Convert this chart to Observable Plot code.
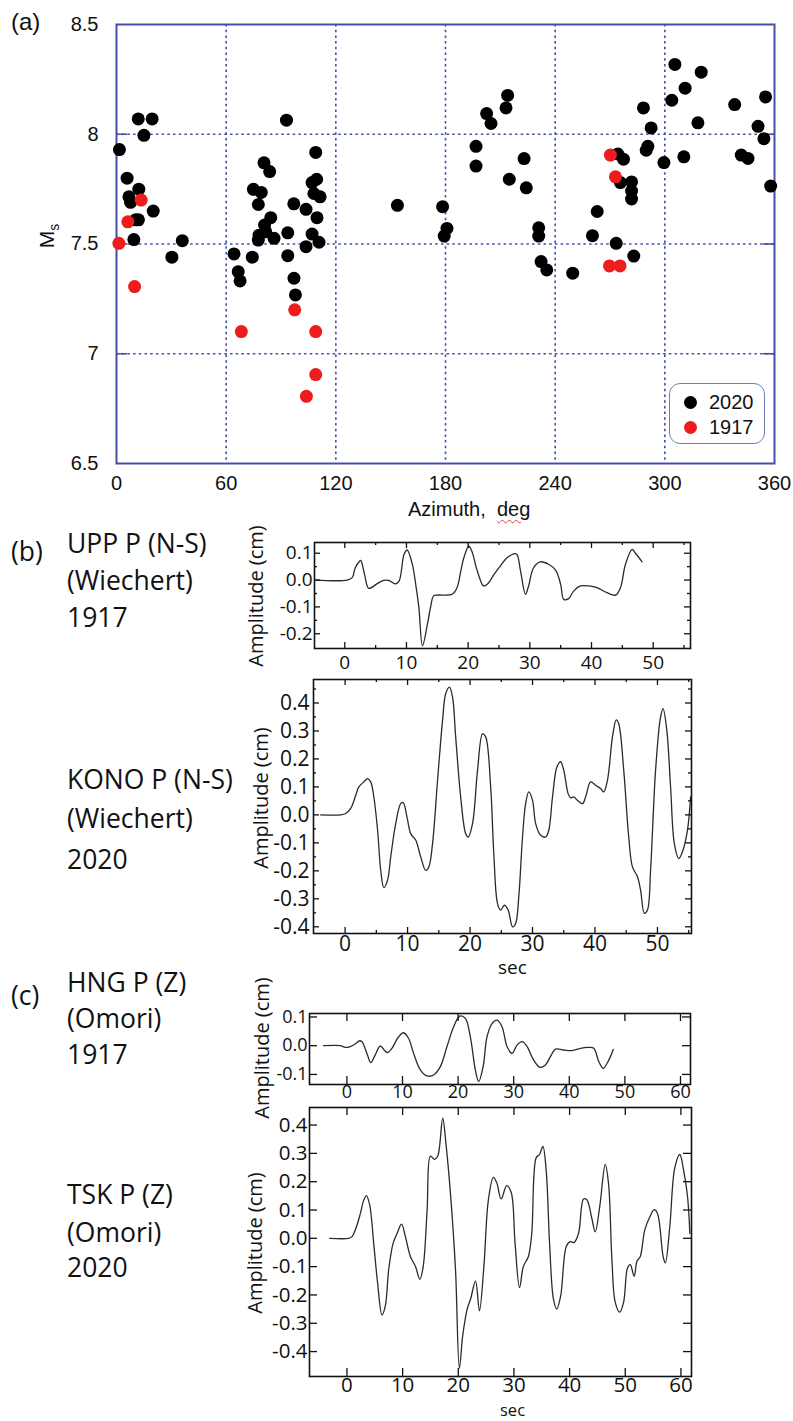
<!DOCTYPE html>
<html><head><meta charset="utf-8">
<script src="https://cdn.jsdelivr.net/npm/d3@7"></script>
<script src="https://cdn.jsdelivr.net/npm/@observablehq/plot@0.6"></script>
<style>
body{margin:0;background:#fff;}
#root{position:relative;width:793px;height:1421px;overflow:hidden;background:#fff;}
#root svg{position:absolute;max-width:none;}
.abs{position:absolute;white-space:nowrap;line-height:1;}
.ar{font-family:"Liberation Sans",Arial,sans-serif;color:#111;}
.os{font-family:"Open Sans",sans-serif;color:#111;}
.rot{transform:translate(-50%,-50%) rotate(-90deg);transform-origin:center;}
</style></head><body><div id="root"></div><script>
// ---------- (a) scatter data ----------
const azimuth2020 = [1.6,5.8,6.8,7.7,12.2,10.5,12.0,9.5,11.9,19.5,15.0,20.1,36.0,30.3,
  93,109,80.7,83.8,107,109.5,74.9,79.2,108,111.4,77.6,97,103.7,84.4,109.7,81,78,81.6,86.2,77.6,93.7,107,110.8,103.7,64.3,74.3,93.7,66.6,67.6,97.1,97.9,
  153.7,178.4,180.8,179.3,196.7,196.7,202.5,204.9,214,213.1,223,214.9,224.2,231,231,232.3,235.4,249.6,
  263,260.4,274.3,277.4,275.7,281.8,281.8,281.8,273.4,283,288.3,292.5,290.7,289.8,299.5,305.5,319.9,311.1,303.8,318.1,310.4,338.2,355.1,351,354.2,341.8,345.5,357.9];
const ms2020 = [7.93,7.80,7.715,7.69,7.75,7.61,7.61,7.52,8.07,8.07,7.995,7.65,7.515,7.44,
  8.064,7.917,7.87,7.83,7.78,7.795,7.749,7.735,7.73,7.715,7.68,7.683,7.658,7.62,7.62,7.586,7.54,7.556,7.526,7.518,7.551,7.545,7.508,7.488,7.455,7.44,7.447,7.374,7.332,7.344,7.268,
  7.676,7.67,7.571,7.536,7.945,7.855,8.094,8.049,8.177,8.12,7.889,7.795,7.756,7.574,7.536,7.42,7.382,7.367,
  7.648,7.538,7.91,7.886,7.78,7.783,7.741,7.705,7.503,7.445,8.12,8.029,7.945,7.927,7.871,8.318,8.283,8.21,8.155,8.052,7.897,8.135,8.17,8.036,7.98,7.905,7.89,7.764];
const azimuth1917 = [1.3,6.2,13.5,9.9,68.3,97.5,109,109,103.9,270.2,273,269.7,275.5];
const ms1917 = [7.503,7.601,7.70,7.306,7.101,7.2,7.101,6.905,6.806,7.905,7.806,7.40,7.40];
const azimuthTicks = [0,60,120,180,240,300,360];
const azimuthGrid = [60,120,180,240,300];
const msTicks = [6.5,7,7.5,8,8.5];
const msGrid = [7,7.5,8];
const seriesNames = ["2020","1917"];

// ---------- (b) waveforms ----------
const uppT = [-4.8,0.4,1.2,1.7,2.4,2.6,3.2,3.9,5.2,6.3,7.1,8.2,8.8,9.6,10.1,10.9,11.5,12.0,12.6,13.4,13.9,14.4,15.0,17.4,18.2,18.8,19.3,20.1,20.6,21.5,22.5,23.1,24.2,25.2,26.3,27.4,27.9,28.5,29.3,29.8,30.6,31.7,33.1,34.2,35.0,35.5,36.3,37.1,38.2,39.6,40.9,42.5,43.9,44.7,45.5,46.6,47.1,48.2];
const uppA = [0,0,0.009,0.046,0.07,0.073,0.021,-0.031,-0.014,-0.001,-0.001,-0.014,-0.004,0.095,0.112,0.064,-0.016,-0.1,-0.245,-0.164,-0.102,-0.059,-0.056,-0.053,-0.028,0.033,0.083,0.126,0.107,0.033,-0.022,-0.016,0.021,0.052,0.083,0.098,0.095,0.033,-0.053,-0.022,0.046,0.068,0.058,0.036,-0.016,-0.072,-0.069,-0.041,-0.022,-0.022,-0.028,-0.047,-0.056,-0.028,0.058,0.114,0.101,0.068];
const konoT = [-3.9,-0.7,0.1,0.9,1.7,2.2,3.0,3.6,4.1,4.6,5.2,5.7,6.2,6.8,7.3,8.1,8.9,9.3,9.9,10.5,11.3,12.1,12.9,13.4,14.0,14.8,15.6,16.1,16.7,17.2,17.7,18.5,19.3,19.7,20.4,21.2,22.0,22.5,23.3,23.8,24.4,24.9,25.5,26.1,26.8,27.3,27.8,28.4,28.9,29.4,30.0,30.5,31.3,32.1,32.6,33.2,33.9,34.5,35.0,35.7,36.1,36.6,37.2,38.0,38.5,39.3,40.1,40.9,41.4,42.0,42.8,43.4,43.8,44.6,45.4,46.0,46.8,47.3,47.9,48.4,48.9,49.7,50.5,50.9,51.5,52.1,52.7,53.4,54.0,54.8,55.3];
const konoA = [0,0,0.005,0.023,0.07,0.1,0.118,0.13,0.118,0.064,-0.055,-0.198,-0.26,-0.233,-0.15,-0.031,0.04,0.044,-0.007,-0.067,-0.09,-0.15,-0.198,-0.186,-0.102,0.124,0.338,0.433,0.457,0.421,0.279,0.064,-0.067,-0.079,-0.031,0.16,0.29,0.279,0.1,-0.138,-0.317,-0.34,-0.323,-0.34,-0.4,-0.388,-0.293,-0.079,0.04,0.082,0.052,-0.031,-0.073,-0.079,-0.055,0.064,0.171,0.19,0.16,0.076,0.061,0.064,0.052,0.04,0.064,0.118,0.106,0.094,0.082,0.124,0.279,0.34,0.326,0.16,-0.079,-0.186,-0.221,-0.269,-0.352,-0.34,-0.198,0.16,0.35,0.38,0.302,0.1,-0.102,-0.156,-0.132,-0.055,0.064];
// ---------- (c) waveforms ----------
const hngT = [-4.2,-1.2,-0.3,0.6,1.5,2.2,2.7,3.6,4.3,5.1,6.0,6.7,7.3,8.1,9.3,10.2,11.1,12.0,13.2,14.4,15.6,16.8,18.0,19.2,20.3,21.3,22.2,23.1,23.7,24.5,25.2,26.1,27.0,27.9,28.8,29.7,30.6,31.5,32.4,33.6,34.7,35.7,36.6,37.5,39.0,40.5,42.0,43.5,44.4,45.3,46.1,46.8,47.4,47.9];
const hngA = [0,0,-0.006,-0.003,0.006,0.017,0.014,-0.027,-0.059,-0.032,-0.001,-0.015,-0.024,-0.009,0.031,0.045,0.025,-0.027,-0.084,-0.105,-0.102,-0.073,-0.003,0.066,0.103,0.095,0.031,-0.084,-0.125,-0.073,0.031,0.077,0.089,0.066,-0.003,-0.027,0.002,0.014,-0.003,-0.05,-0.075,-0.067,-0.038,-0.012,-0.015,-0.017,-0.009,-0.006,-0.009,-0.055,-0.079,-0.061,-0.038,-0.013];
const tskT = [-3.1,0.3,0.9,1.7,2.4,3.0,3.5,4.1,4.8,5.5,6.3,6.9,7.5,8.3,9.0,9.8,10.5,11.4,12.3,13.1,13.7,14.4,15.0,15.7,16.3,17.2,17.8,18.6,19.5,20.2,20.8,21.6,22.2,23.1,23.8,24.6,25.4,26.3,26.9,27.7,28.7,29.5,30.2,31.0,31.7,32.6,33.2,34.0,34.6,35.2,35.8,36.4,37.1,37.7,38.4,39.4,40.1,40.8,41.6,42.5,43.1,44.0,44.6,45.4,46.4,47.0,47.6,48.2,49.0,49.7,50.4,50.9,51.6,52.1,52.7,53.5,54.4,55.2,55.8,56.8,57.2,58.0,58.9,59.8,60.5,61.2,61.6];
const tskA = [0,0,0.006,0.041,0.087,0.134,0.151,0.116,-0.017,-0.157,-0.271,-0.238,-0.11,-0.017,0.017,0.05,0.006,-0.064,-0.099,-0.145,-0.099,0.099,0.29,0.279,0.29,0.424,0.331,0.157,-0.11,-0.459,-0.343,-0.25,-0.215,-0.151,-0.256,-0.099,0.134,0.215,0.197,0.139,0.186,0.163,-0.017,-0.174,-0.099,-0.064,0.017,0.285,0.296,0.325,0.238,-0.017,-0.215,-0.25,-0.203,-0.029,-0.012,-0.015,0.017,0.139,0.136,0.07,0.023,0.11,0.261,0.192,-0.075,-0.226,-0.261,-0.226,-0.105,-0.093,-0.134,-0.081,-0.064,0.029,0.075,0.101,0.087,-0.064,-0.087,0.041,0.25,0.296,0.238,0.145,0.017];
const secTicks50 = [0,10,20,30,40,50];
const secMinor50 = [5,15,25,35,45,55];
const secTicks60 = [0,10,20,30,40,50,60];
const uppTicks = [0.1,0.0,-0.1,-0.2];
const uppMinor = [0.05,-0.05,-0.15];
const amp4Ticks = [0.4,0.3,0.2,0.1,0.0,-0.1,-0.2,-0.3,-0.4];
const amp4Minor = [0.45,0.35,0.25,0.15,0.05,-0.05,-0.15,-0.25,-0.35];
const hngTicks = [0.1,0.0,-0.1];

const root = document.getElementById("root");
function place(el, left, top) { el.style.left = left + "px"; el.style.top = top + "px"; root.appendChild(el); }
function txt(s, cls, left, top, size, extra) {
  const d = document.createElement("div");
  d.className = "abs " + cls; d.style.fontSize = size + "px";
  d.innerHTML = s; if (extra) Object.assign(d.style, extra);
  place(d, left, top); return d;
}

// ---------- (a) ----------
const blue = "#4050a6";
const W = 793, H = 520, mL = 116, mR = 19, mT = 24, mB = 57;
const pw = W - mL - mR;
const pts2020 = azimuth2020.map((a, i) => ({az: a, ms: ms2020[i]}));
const pts1917 = azimuth1917.map((a, i) => ({az: a, ms: ms1917[i]}));
const scatter = Plot.plot({
  width: W, height: H, marginLeft: mL, marginRight: mR, marginTop: mT, marginBottom: mB,
  x: {domain: [0, 360], label: null},
  y: {domain: [6.5, 8.5], label: null},
  style: {background: "transparent", fontFamily: "'Liberation Sans', Arial, sans-serif", color: "#111", overflow: "visible"},
  marks: [
    Plot.gridX(azimuthGrid, {stroke: blue, strokeOpacity: 1, strokeWidth: 1.6, strokeDasharray: "2.5,3.2"}),
    Plot.gridY(msGrid, {stroke: blue, strokeOpacity: 1, strokeWidth: 1.6, strokeDasharray: "2.5,3.2"}),
    Plot.tickY(msGrid, {y: d => d, insetRight: pw - 11, stroke: blue, strokeWidth: 1.6}),
    Plot.tickY(msGrid, {y: d => d, insetLeft: pw - 11, stroke: blue, strokeWidth: 1.6}),
    Plot.frame({stroke: blue, strokeWidth: 2}),
    Plot.dot(pts2020, {x: "az", y: "ms", r: 6.5, fill: "#000"}),
    Plot.dot(pts1917, {x: "az", y: "ms", r: 6.5, fill: "#ee1c1c"}),
    Plot.axisX(azimuthTicks, {tickSize: 0, tickPadding: 12, fontSize: 20, tickFormat: d => String(d), label: null}),
    Plot.axisY(msTicks, {tickSize: 0, tickPadding: 18, fontSize: 20, tickFormat: d => String(d), label: null})
  ]
});
place(scatter, 0, 0);
txt("(a)", "ar", 11, 10, 24);
txt('M<span style="font-size:14px;position:relative;top:5px">s</span>', "ar rot", 46, 236, 21);
txt('Azimuth,&nbsp; <span style="text-decoration:underline wavy #e04040;text-decoration-thickness:1px;text-underline-offset:3px">deg</span>', "ar", 408, 499, 20);
// legend
const leg = document.createElement("div");
leg.className = "abs ar";
Object.assign(leg.style, {width: "96px", height: "61px", border: "1.5px solid #6f80b8", borderRadius: "11px", fontSize: "20px", boxSizing: "border-box"});
const legColors = ["#000", "#ee1c1c"];
seriesNames.forEach((n, i) => {
  const row = document.createElement("div");
  Object.assign(row.style, {position: "absolute", left: "14px", top: (8 + i * 25) + "px", display: "flex", alignItems: "center"});
  row.innerHTML = `<span style="display:inline-block;width:13px;height:13px;border-radius:50%;background:${legColors[i]};margin-right:12px"></span><span>${n}</span>`;
  leg.appendChild(row);
});
place(leg, 669, 383);

// ---------- trace panels ----------
function trace(o) {
  const ph = o.height - o.mt - o.mb, pwid = o.width - o.ml - o.mr;
  const data = o.t.map((t, i) => ({t, a: o.a[i]}));
  const tick = {stroke: "#111", strokeWidth: 1.3};
  const marks = [
    Plot.line(data, {x: "t", y: "a", stroke: "#2b2b2b", strokeWidth: 1.3, curve: "catmull-rom", clip: true}),
    Plot.tickX(o.xTicks, {x: d => d, insetTop: ph - o.major, ...tick}),
    Plot.tickX(o.xTicks, {x: d => d, insetBottom: ph - o.major, ...tick}),
    Plot.tickY(o.yTicks, {y: d => d, insetRight: pwid - o.major, ...tick}),
    Plot.tickY(o.yTicks, {y: d => d, insetLeft: pwid - o.major, ...tick})
  ];
  if (o.xMinor) marks.push(
    Plot.tickX(o.xMinor, {x: d => d, insetTop: ph - o.minor, ...tick}),
    Plot.tickX(o.xMinor, {x: d => d, insetBottom: ph - o.minor, ...tick}));
  if (o.yMinor) marks.push(
    Plot.tickY(o.yMinor, {y: d => d, insetRight: pwid - o.minor, ...tick}),
    Plot.tickY(o.yMinor, {y: d => d, insetLeft: pwid - o.minor, ...tick}));
  marks.push(
    Plot.frame({stroke: "#111", strokeWidth: 1.6}),
    Plot.axisX(o.xTicks, {tickSize: 0, tickPadding: o.xPad, fontSize: o.fs, tickFormat: d => String(d), label: null}),
    Plot.axisY(o.yTicks, {tickSize: 0, tickPadding: o.yPad, fontSize: o.fs, tickFormat: d => d.toFixed(1), label: null})
  );
  const svg = Plot.plot({
    width: o.width, height: o.height, marginLeft: o.ml, marginRight: o.mr, marginTop: o.mt, marginBottom: o.mb,
    x: {domain: o.xDomain, label: null}, y: {domain: o.yDomain, label: null},
    style: {background: "transparent", fontFamily: "'Open Sans', sans-serif", color: "#111", overflow: "visible"},
    marks
  });
  place(svg, o.left, o.top);
}

trace({t: uppT, a: uppA, left: 230, top: 520, width: 480, height: 160, ml: 84, mr: 20, mt: 22, mb: 32,
  xDomain: [-4.91, 56.05], yDomain: [-0.255, 0.14], xTicks: secTicks50, xMinor: secMinor50,
  yTicks: uppTicks, yMinor: uppMinor, major: 6, minor: 3, fs: 19, xPad: 7, yPad: 2});
trace({t: konoT, a: konoA, left: 230, top: 670, width: 480, height: 310, ml: 83, mr: 19, mt: 9, mb: 47,
  xDomain: [-5.06, 55.45], yDomain: [-0.424, 0.484], xTicks: secTicks50, xMinor: secMinor50,
  yTicks: amp4Ticks, yMinor: amp4Minor, major: 6, minor: 3, fs: 21, xPad: 3, yPad: 4});
trace({t: hngT, a: hngA, left: 230, top: 980, width: 480, height: 125, ml: 79, mr: 20, mt: 33, mb: 21,
  xDomain: [-6.73, 61.8], yDomain: [-0.135, 0.112], xTicks: secTicks60,
  yTicks: hngTicks, major: 8, fs: 18, xPad: 1, yPad: 2});
trace({t: tskT, a: tskA, left: 230, top: 1100, width: 480, height: 321, ml: 79, mr: 19, mt: 7, mb: 45,
  xDomain: [-6.73, 61.9], yDomain: [-0.488, 0.462], xTicks: secTicks60,
  yTicks: amp4Ticks, major: 8, fs: 20.5, xPad: 1, yPad: 2});

// axis titles for traces
txt("Amplitude (cm)", "os rot", 256, 596, 20);
txt("Amplitude (cm)", "os rot", 261, 798, 20);
txt("Amplitude (cm)", "os rot", 262, 1048, 20);
txt("Amplitude (cm)", "os rot", 255, 1243, 20);
txt("sec", "os", 498, 954, 19, {lineHeight: "normal"});
txt("sec", "os", 500, 1398, 16.5, {lineHeight: "normal"});

// station labels
const labelSize = 26.5;
txt("(b)", "os", 11, 538, labelSize);
txt("UPP P (N-S)", "os", 67, 530, labelSize);
txt("(Wiechert)", "os", 67, 567, labelSize);
txt("1917", "os", 67, 603.5, labelSize);
txt("KONO P (N-S)", "os", 67, 766, labelSize);
txt("(Wiechert)", "os", 67, 805, labelSize);
txt("2020", "os", 67, 846, labelSize);
txt("(c)", "os", 11, 982, labelSize);
txt("HNG P (Z)", "os", 67, 969, labelSize);
txt("(Omori)", "os", 67, 1005, labelSize);
txt("1917", "os", 67, 1041, labelSize);
txt("TSK P (Z)", "os", 67, 1181, labelSize);
txt("(Omori)", "os", 67, 1219, labelSize);
txt("2020", "os", 67, 1254, labelSize);
</script></body></html>
